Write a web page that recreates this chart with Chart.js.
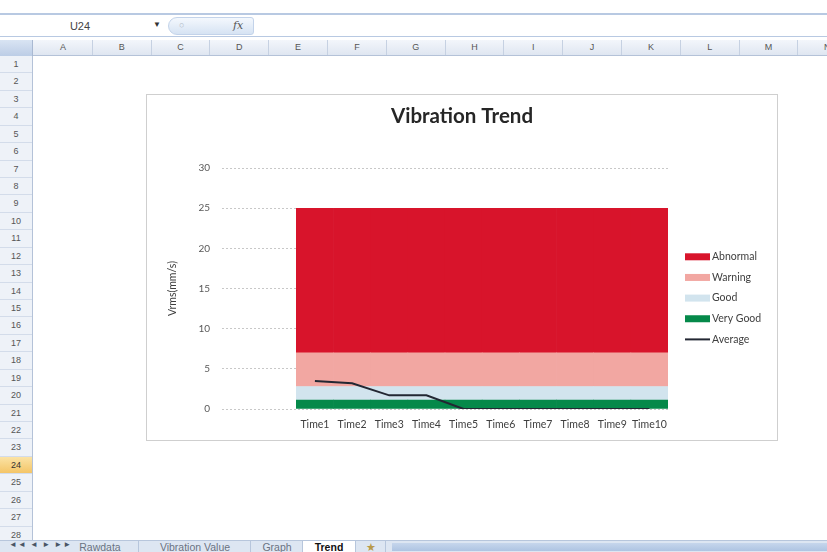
<!DOCTYPE html>
<html>
<head>
<meta charset="utf-8">
<title>Vibration Trend</title>
<script src="https://cdn.jsdelivr.net/npm/chart.js@4.4.1/dist/chart.umd.min.js"></script>
<style>
  html, body { margin: 0; padding: 0; }
  body {
    width: 827px; height: 552px; position: relative; overflow: hidden;
    background: #fff; font-family: 'Liberation Sans', Arial, sans-serif; color: #333;
  }
  .abs { position: absolute; }
  /* formula bar */
  #fbar-top { left: 0; top: 13px; width: 827px; height: 2px; background: #b8c9e2; }
  #fbar-bot { left: 0; top: 36px; width: 827px; height: 1px; background: #b8c9e2; }
  #namebox { left: 30px; top: 18px; width: 100px; height: 17px; font-size: 11px; line-height: 17px; text-align: center; color: #444; }
  #nb-arrow { left: 153px; top: 20px; font-size: 8px; color: #333; }
  #fx-pill {
    left: 168px; top: 17px; width: 86px; height: 18px; border-radius: 9px 3px 3px 9px;
    background: linear-gradient(#f4f8fd, #d6e3f3); border: 1px solid #c3d3ea; box-sizing: border-box;
  }
  #fx-pill span.c { position: absolute; left: 10px; top: 2px; font-size: 9px; color: #b0b8c4; }
  #fx-pill span.f { position: absolute; left: 64px; top: 1px; font-size: 11px; font-style: italic; font-family: 'DejaVu Serif', serif; color: #555; }
  /* sheet headers */
  #colhead {
    left: 0; top: 40px; width: 827px; height: 15px;
    background: linear-gradient(#f3f6fb, #dfe6f1); border-bottom: 1px solid #b4c2d8;
  }
  .col { position: absolute; top: 0; height: 15px; font-size: 9px; line-height: 15px; text-align: center; color: #555; border-right: 1px solid #c6d1e2; box-sizing: border-box; }
  #corner { left: 0; top: 40px; width: 33px; height: 16px; background: linear-gradient(#d9e4f3, #bccde6); border-right: 1px solid #a9b9d2; box-sizing: border-box; }
  #rowhead { left: 0; top: 56px; width: 33px; height: 484px; background: #eef2f8; border-right: 1px solid #b4c2d8; box-sizing: border-box; }
  .row { position: absolute; left: 0; width: 32px; font-size: 9px; text-align: center; color: #555; border-bottom: 1px solid #d3dcea; box-sizing: border-box; }
  .row.sel { background: linear-gradient(#fbe3a5, #f4c567); color: #333; }
  /* sheet tabs */
  #tabs { left: 0; top: 540px; width: 827px; height: 12px; background: #dde6f2; border-top: 1px solid #b7c6dc; }
  .nav { position: absolute; top: -1px; font-size: 8px; color: #4a5566; letter-spacing: 1px; }
  .tab { position: absolute; top: 0; height: 12px; font-size: 10.5px; line-height: 12px; color: #6a7382; border-right: 1px solid #b7c6dc; text-align: center; }
  .tab.on { background: #fff; color: #111; font-weight: bold; }
  #scroll { position: absolute; left: 392px; top: 2px; width: 435px; height: 8px; background: linear-gradient(#c6d6ec, #aec4e2); }
  /* chart box */
  #chartbox {
    left: 147px; top: 95px; width: 630px; height: 345px;
    box-shadow: 0 0 0 1px #cfcfcf; background: #fff;
  }
</style>
</head>
<body>
<div id="fbar-top" class="abs"></div>
<div id="namebox" class="abs">U24</div>
<div id="nb-arrow" class="abs">&#9660;</div>
<div id="fx-pill" class="abs"><span class="c">&#9675;</span><span class="f">fx</span></div>
<div id="fbar-bot" class="abs"></div>

<div id="colhead" class="abs"></div>
<div id="corner" class="abs"></div>
<div id="rowhead" class="abs"></div>

<div id="chartbox" class="abs"><canvas id="trendChart"></canvas></div>

<div id="tabs" class="abs">
  <span class="nav" style="left:9px">&#9668;&#9668; &#9668; &#9658; &#9658;&#9658;</span>
  <span class="tab" style="left:62px;width:76px">Rawdata</span>
  <span class="tab" style="left:140px;width:110px">Vibration Value</span>
  <span class="tab" style="left:252px;width:50px">Graph</span>
  <span class="tab on" style="left:303px;width:52px">Trend</span>
  <span class="tab" style="left:357px;width:28px;color:#b89a4a">&#9733;</span>
  <div id="scroll"></div>
</div>

<script>
// x categories (two empty slots before the measurements, as in the sheet range)
const timeLabels = ['', '', 'Time1', 'Time2', 'Time3', 'Time4', 'Time5', 'Time6', 'Time7', 'Time8', 'Time9', 'Time10'];

// zone band thicknesses (stacked), mm/s
const veryGoodBand = [null, null, 1.1, 1.1, 1.1, 1.1, 1.1, 1.1, 1.1, 1.1, 1.1, 1.1];
const goodBand     = [null, null, 1.7, 1.7, 1.7, 1.7, 1.7, 1.7, 1.7, 1.7, 1.7, 1.7];
const warningBand  = [null, null, 4.2, 4.2, 4.2, 4.2, 4.2, 4.2, 4.2, 4.2, 4.2, 4.2];
const abnormalBand = [null, null, 18, 18, 18, 18, 18, 18, 18, 18, 18, 18];

// measured average Vrms
const averageVrms = [null, null, 3.5, 3.2, 1.7, 1.7, 0, 0, 0, 0, 0, 0];

const yMin = 0, yMax = 30, yStep = 5;

// sheet column / row headers
const colLetters = ['A','B','C','D','E','F','G','H','I','J','K','L','M','N'];
const colW = 58.8, rowH = 17.43;
const colhead = document.getElementById('colhead');
colLetters.forEach((c, i) => {
  const d = document.createElement('div');
  d.className = 'col';
  d.style.left = (34 + i * colW) + 'px';
  d.style.width = colW + 'px';
  d.textContent = c;
  colhead.appendChild(d);
});
const rowhead = document.getElementById('rowhead');
for (let r = 1; r <= 28; r++) {
  const d = document.createElement('div');
  d.className = 'row' + (r === 24 ? ' sel' : '');
  d.style.top = ((r - 1) * rowH) + 'px';
  d.style.height = rowH + 'px';
  d.style.lineHeight = rowH + 'px';
  d.textContent = r;
  rowhead.appendChild(d);
}

const FONT = "Lato, 'Open Sans', sans-serif";

// legend drawn to the right of the plot, Excel style
const sideLegend = {
  id: 'sideLegend',
  afterDraw(chart, args, opts) {
    const {ctx, chartArea} = chart;
    const x0 = chartArea.right + 17;
    ctx.save();
    ctx.font = '10.5px ' + FONT;
    ctx.textBaseline = 'middle';
    ctx.textAlign = 'left';
    opts.order.forEach((idx, i) => {
      const ds = chart.data.datasets[idx];
      const y = chartArea.top + 88.7 + i * 20.65;
      if (ds.type === 'line') {
        ctx.strokeStyle = ds.borderColor;
        ctx.lineWidth = 2;
        ctx.beginPath();
        ctx.moveTo(x0, y);
        ctx.lineTo(x0 + 25, y);
        ctx.stroke();
      } else {
        ctx.fillStyle = ds.backgroundColor;
        ctx.fillRect(x0, y - 3.5, 25, 7);
      }
      ctx.fillStyle = '#404040';
      ctx.fillText(ds.label, x0 + 27, y);
    });
    ctx.restore();
  }
};

const barBase = { type: 'bar', stack: 'bands', order: 1, borderWidth: 0, categoryPercentage: 1, barPercentage: 1 };

new Chart(document.getElementById('trendChart'), {
  data: {
    labels: timeLabels,
    datasets: [
      Object.assign({}, barBase, { label: 'Very Good', data: veryGoodBand, backgroundColor: '#05894a' }),
      Object.assign({}, barBase, { label: 'Good', data: goodBand, backgroundColor: '#d2e4ee' }),
      Object.assign({}, barBase, { label: 'Warning', data: warningBand, backgroundColor: '#f2a7a2' }),
      Object.assign({}, barBase, { label: 'Abnormal', data: abnormalBand, backgroundColor: '#d8142b' }),
      {
        type: 'line', label: 'Average', data: averageVrms, stack: 'avg', order: 0,
        borderColor: '#232733', borderWidth: 2, pointRadius: 0, tension: 0, fill: false
      }
    ]
  },
  options: {
    responsive: true,
    maintainAspectRatio: false,
    animation: false,
    layout: { padding: 0 },
    plugins: {
      legend: { display: false },
      tooltip: { enabled: false },
      title: {
        display: true,
        text: 'Vibration Trend',
        color: '#262626',
        font: { family: FONT, size: 20.5, weight: 'bold' },
        padding: { top: 9, bottom: 39.5 }
      },
      sideLegend: { order: [3, 2, 1, 0, 4] }
    },
    scales: {
      x: {
        stacked: true,
        grid: { display: false, drawTicks: false },
        border: { display: false },
        ticks: { color: '#404040', font: { family: FONT, size: 10.5 }, padding: 9, maxRotation: 0, autoSkip: false },
        afterFit(scale) { scale.height = 31; }
      },
      y: {
        stacked: true,
        min: yMin,
        max: yMax,
        ticks: { stepSize: yStep, color: '#595959', font: { family: FONT, size: 10 }, padding: 12 },
        grid: { color: '#c8c8c8', borderDash: [2, 2], drawTicks: false },
        border: { display: false, dash: [2, 2] },
        title: {
          display: true,
          text: 'Vrms(mm/s)',
          color: '#404040',
          font: { family: FONT, size: 10.5 },
          padding: { top: 19, bottom: 0 }
        },
        afterFit(scale) { scale.width = 75; }
      },
      // empty right-hand box that reserves room for the legend
      legendSpace: {
        type: 'linear',
        position: 'right',
        grid: { display: false, drawTicks: false },
        border: { display: false },
        ticks: { display: false },
        afterFit(scale) { scale.width = 109; }
      }
    }
  },
  plugins: [sideLegend]
});
</script>
</body>
</html>
